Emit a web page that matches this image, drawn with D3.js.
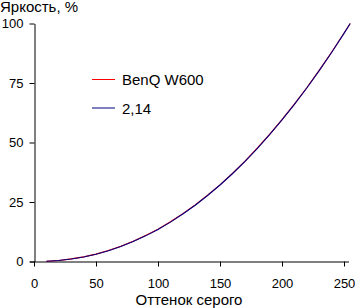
<!DOCTYPE html>
<html>
	<head>
		<meta charset="utf-8">
		<title>Яркость</title>
		<style>
			body { margin: 0; background: #fff; }
			#myGraph text { font-family: "Liberation Sans", Arial, sans-serif; font-size: 13px; fill: #000; }
			#myGraph text.big { font-size: 15px; }
			#myGraph .domain, #myGraph .tick line { stroke: #000; }
		</style>
		<script src="https://d3js.org/d3.v7.min.js" charset="utf-8"></script>
	</head>
	<body>
		<svg id="myGraph" width="355" height="308"></svg>
		<script>
		// 데이터
		var grayLevels = [10, 20, 30, 40, 50, 60, 70, 80, 90, 100, 110, 120, 130, 140, 150, 160, 170, 180, 190, 200, 210, 220, 230, 240, 250, 255];
		var benqValues = [0.1, 0.45, 1.1, 1.95, 3.1, 4.6, 6.4, 8.5, 10.9, 13.6, 16.7, 20.1, 23.8, 27.9, 32.2, 37.0, 42.1, 47.6, 53.4, 59.6, 66.1, 73.0, 80.3, 87.9, 95.9, 100];
		var gammaValues = [0.1, 0.43, 1.03, 1.9, 3.06, 4.52, 6.29, 8.37, 10.77, 13.49, 16.54, 19.93, 23.65, 27.72, 32.13, 36.88, 41.99, 47.46, 53.27, 59.47, 66.0, 72.91, 80.19, 87.84, 95.85, 100];
		var xTicks = [0, 50, 100, 150, 200, 250];
		var yTicks = [0, 25, 50, 75, 100];
		var seriesNames = ["BenQ W600", "2,14"];
		var seriesColors = ["#ff0000", "#000080"];

		var svg = d3.select("#myGraph");
		var x = d3.scaleLinear().domain([0, 250]).range([34, 344]);
		var y = d3.scaleLinear().domain([0, 100]).range([261.5, 23.5]);

		// 축
		var xAxis = svg.append("g")
			.attr("transform", "translate(0,261.5)")
			.call(d3.axisBottom(x).tickValues(xTicks).tickSize(5).tickSizeOuter(0));
		xAxis.select(".domain").attr("d", "M30,0.5H349");
		xAxis.selectAll("text").attr("dy", "1.45em");

		var yAxis = svg.append("g")
			.attr("transform", "translate(34.5,0)")
			.call(d3.axisLeft(y).tickValues(yTicks).tickSize(5).tickSizeOuter(0));
		yAxis.selectAll("text").attr("x", -11);

		svg.append("text").attr("class", "big").attr("x", 0).attr("y", 12).text("Яркость, %");
		svg.append("text").attr("class", "big").attr("x", 189).attr("y", 304.5).attr("text-anchor", "middle").text("Оттенок серого");

		// 선
		var line = d3.line()
			.x(function(d){ return x(d[0]); })
			.y(function(d){ return y(d[1]); });
		[benqValues, gammaValues].forEach(function(vals, i){
			svg.append("path")
				.datum(grayLevels.map(function(g, j){ return [g, vals[j]]; }))
				.attr("fill", "none")
				.attr("stroke", seriesColors[i])
				.attr("stroke-width", 1.1)
				.attr("d", line);
		});

		// 범례
		var legend = svg.selectAll(".legend")
			.data(seriesNames)
			.enter().append("g")
			.attr("transform", function(d, i){ return "translate(92," + (79.5 + i * 28.5) + ")"; });
		legend.append("line")
			.attr("x1", 0).attr("x2", 23)
			.attr("stroke", function(d, i){ return seriesColors[i]; });
		legend.append("text")
			.attr("class", "big")
			.attr("x", 30).attr("y", 5.5)
			.text(function(d){ return d; });
		</script>
	</body>
</html>
